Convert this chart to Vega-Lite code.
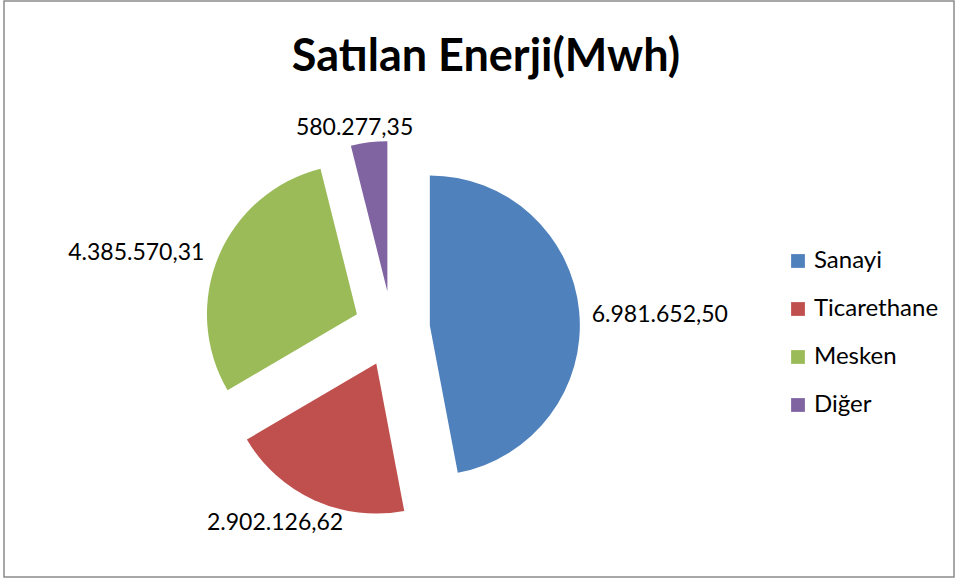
{
  "$schema": "https://vega.github.io/schema/vega-lite/v6.json",
  "width": 950,
  "height": 576,
  "autosize": {"type": "none"},
  "padding": {"left": 4, "top": 1, "right": 2, "bottom": 2},
  "background": "white",
  "title": {
    "text": "Satılan Enerji(Mwh)",
    "font": "Lato",
    "fontSize": 45,
    "fontWeight": "bold",
    "color": "black",
    "anchor": "middle",
    "dx": 7,
    "offset": -80
  },
  "config": {
    "view": {"stroke": null},
    "locale": {"number": {"decimal": ",", "thousands": ".", "grouping": [3], "currency": ["", ""]}}
  },
  "data": {
    "values": [
      {"kategori": "Sanayi", "deger": 6981652.50, "sira": 1},
      {"kategori": "Ticarethane", "deger": 2902126.62, "sira": 2},
      {"kategori": "Mesken", "deger": 4385570.31, "sira": 3},
      {"kategori": "Diğer", "deger": 580277.35, "sira": 4}
    ]
  },
  "layer": [
    {
      "data": {"values": [{"cerceve": 1}]},
      "mark": {"type": "rect", "filled": false, "stroke": "#8c8c8c", "strokeWidth": 1.5},
      "encoding": {}
    },
    {
      "mark": {
        "type": "arc",
        "outerRadius": 150,
        "x": {"expr": "388 + 38*sin((scale('theta', datum.deger_start) + scale('theta', datum.deger_end))/2)"},
        "y": {"expr": "328 - 38*cos((scale('theta', datum.deger_start) + scale('theta', datum.deger_end))/2)"}
      },
      "encoding": {
        "theta": {"field": "deger", "type": "quantitative", "stack": true},
        "order": {"field": "sira", "type": "quantitative"},
        "color": {
          "field": "kategori",
          "type": "nominal",
          "scale": {
            "domain": ["Sanayi", "Ticarethane", "Mesken", "Diğer"],
            "range": ["#4F81BD", "#C0504D", "#9BBB59", "#8064A2"]
          },
          "legend": {
            "title": null,
            "orient": "none",
            "legendX": 782,
            "legendY": 248,
            "symbolType": "square",
            "symbolSize": 190,
            "symbolStrokeWidth": 0,
            "labelFont": "Lato",
            "labelFontSize": 24,
            "labelColor": "black",
            "rowPadding": 24,
            "labelOffset": 4
          }
        }
      }
    },
    {
      "mark": {
        "type": "text",
        "radius": 160,
        "x": {"expr": "388 + 38*sin((scale('theta', datum.deger_start) + scale('theta', datum.deger_end))/2)"},
        "y": {"expr": "328 - 38*cos((scale('theta', datum.deger_start) + scale('theta', datum.deger_end))/2)"},
        "dx": {"expr": "75*sin((scale('theta', datum.deger_start) + scale('theta', datum.deger_end))/2) - 4"},
        "dy": {"expr": "5 - 10*cos((scale('theta', datum.deger_start) + scale('theta', datum.deger_end))/2)"},
        "align": "center",
        "baseline": "middle",
        "font": "Lato",
        "fontSize": 23,
        "color": "black"
      },
      "encoding": {
        "theta": {"field": "deger", "type": "quantitative", "stack": true},
        "order": {"field": "sira", "type": "quantitative"},
        "text": {"field": "deger", "type": "quantitative", "format": ",.2f"}
      }
    }
  ]
}
